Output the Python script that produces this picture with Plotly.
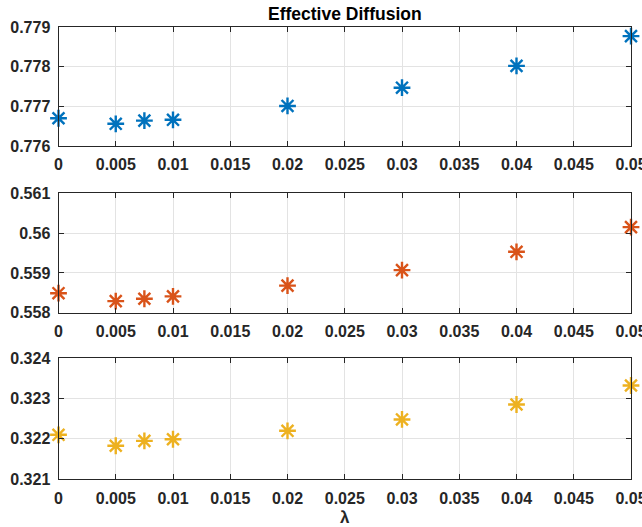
import plotly.graph_objects as go

lam = [0, 0.005, 0.0075, 0.01, 0.02, 0.03, 0.04, 0.05]
d1 = [0.77670, 0.77656, 0.77664, 0.77666, 0.77701, 0.77747, 0.77802, 0.77877]
d2 = [0.55849, 0.55829, 0.55835, 0.55841, 0.55868, 0.55907, 0.55953, 0.56015]
d3 = [0.32210, 0.32183, 0.32195, 0.32199, 0.32220, 0.32248, 0.32285, 0.32332]
series = [d1, d2, d3]
colors = ["#0072BD", "#D95319", "#EDB120"]
yranges = [[0.776, 0.779], [0.558, 0.561], [0.321, 0.324]]
xticks = [0, 0.005, 0.01, 0.015, 0.02, 0.025, 0.03, 0.035, 0.04, 0.045, 0.05]
xticktext = ["0", "0.005", "0.01", "0.015", "0.02", "0.025", "0.03", "0.035", "0.04", "0.045", "0.05"]
ytickvals = [[0.776, 0.777, 0.778, 0.779], [0.558, 0.559, 0.56, 0.561], [0.321, 0.322, 0.323, 0.324]]
yticktext = [["0.776", "0.777", "0.778", "0.779"], ["0.558", "0.559", "0.56", "0.561"], ["0.321", "0.322", "0.323", "0.324"]]

W, H = 642, 527
xdom = [58.5 / W, 631 / W]
ydoms = [[(H - 146) / H, (H - 27) / H], [(H - 312.7) / H, (H - 193.3) / H], [(H - 479.3) / H, (H - 358) / H]]

FAM = "Liberation Sans, Arial, sans-serif"
fig = go.Figure()
for i in range(3):
    n = "" if i == 0 else str(i + 1)
    fig.add_trace(go.Scatter(
        x=lam, y=series[i], mode="markers",
        xaxis="x" + n, yaxis="y" + n,
        marker=dict(symbol="asterisk-open", size=14, color=colors[i],
                    line=dict(color=colors[i], width=2.4)),
        cliponaxis=False, showlegend=False, hoverinfo="skip",
    ))
    common = dict(showline=True, linecolor="#262626", linewidth=1, mirror="allticks",
                  ticks="inside", ticklen=5, tickcolor="#262626", tickwidth=1,
                  showgrid=True, gridcolor="#e3e3e3", gridwidth=1, zeroline=False,
                  ticklabeloverflow="allow", automargin=False,
                  tickfont=dict(family=FAM, size=16, color="#262626", weight="bold"))
    fig.update_layout(**{
        "xaxis" + n: dict(domain=xdom, range=[0, 0.05], anchor="y" + n,
                          tickvals=xticks, ticktext=xticktext, ticklabelstandoff=4, **common),
        "yaxis" + n: dict(domain=ydoms[i], range=yranges[i], anchor="x" + n,
                          tickvals=ytickvals[i], ticktext=yticktext[i], ticklabelstandoff=4, **common),
    })

fig.update_layout(
    xaxis3_title=dict(text="<b>λ</b>", font=dict(family=FAM, size=17, color="#262626"), standoff=5),
    width=W, height=H, margin=dict(l=0, r=0, t=0, b=0, autoexpand=False),
    paper_bgcolor="white", plot_bgcolor="white",
    font=dict(family=FAM, size=16, color="#262626"),
    annotations=[dict(text="<b>Effective Diffusion</b>", x=(xdom[0] + xdom[1]) / 2, y=(H - 14) / H,
                      xref="paper", yref="paper", showarrow=False,
                      font=dict(family=FAM, size=17.5, color="#000000"),
                      xanchor="center", yanchor="middle")],
)
fig.write_html("out.html", config={"displayModeBar": False},
               post_script="document.body.style.margin='0';document.body.style.overflow='hidden';")
